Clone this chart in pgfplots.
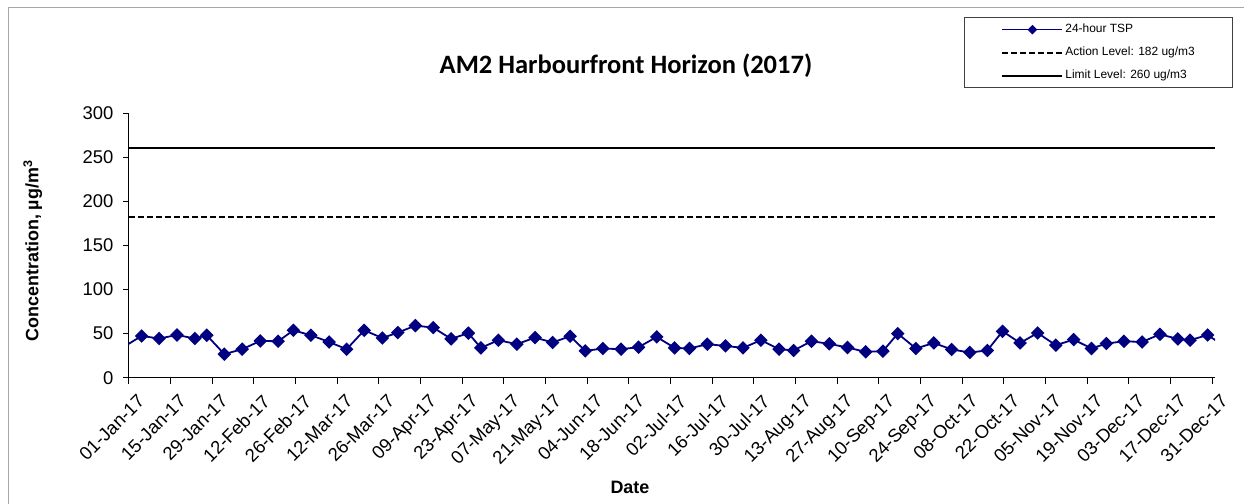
\documentclass[border=0pt]{standalone}
\usepackage{fontspec}
\setmainfont{Liberation Sans}
\newfontfamily\calibri{Carlito}
\usepackage{pgfplots}
\pgfplotsset{compat=1.18}
\definecolor{tspnavy}{RGB}{0,0,128}
\pgfplotsset{
  mylegline/.style={legend image code/.code={\path (-37bp,0bp); \draw[##1] (0bp,0bp) -- (60bp,0bp);}},
  mylegmark/.style={legend image code/.code={\path (-37bp,0bp); \draw[mark repeat=2, mark phase=2, mark size=2.6bp, line width=1.6bp, tspnavy, mark=square*, mark options={rotate=45}] plot coordinates {(0bp,0bp) (30bp,0bp) (60bp,0bp)};}},
}
\begin{document}
\begin{tikzpicture}
\useasboundingbox (0,0) rectangle (1244bp,504bp);
\fill[white] (0,0) rectangle (1244bp,504bp);
\draw[black!35, line width=1bp] (8.3bp,0) -- (8.3bp,496.7bp) -- (1244bp,496.7bp);
\begin{axis}[
  at={(128.8bp,126.3bp)}, anchor=south west,
  scale only axis, width=1086.2bp, height=264.7bp,
  xmin=0, xmax=365, ymin=0, ymax=300,
  axis lines=left, axis line style={-, black, line width=1bp},
  tick align=outside, major tick length=6bp,
  tick style={black, line width=0.8bp},
  ytick={0,50,...,300},
  xtick={0,14,...,364},
  xticklabels={01-Jan-17,15-Jan-17,29-Jan-17,12-Feb-17,26-Feb-17,12-Mar-17,26-Mar-17,09-Apr-17,23-Apr-17,07-May-17,21-May-17,04-Jun-17,18-Jun-17,02-Jul-17,16-Jul-17,30-Jul-17,13-Aug-17,27-Aug-17,10-Sep-17,24-Sep-17,08-Oct-17,22-Oct-17,05-Nov-17,19-Nov-17,03-Dec-17,17-Dec-17,31-Dec-17},
  /pgf/number format/assume math mode=true,
  yticklabel style={font=\fontsize{18.5}{21}\selectfont, xshift=-6bp},
  xticklabel style={font=\fontsize{18.5}{21}\selectfont, rotate=45, anchor=north east, xshift=2bp, yshift=-9bp},
  title={AM2 Harbourfront Horizon (2017)},
  title style={font=\calibri\bfseries\fontsize{26.6}{30}\selectfont, at={(axis description cs:0.4577,1.128)}, anchor=base},
  xlabel={Date},
  xlabel style={font=\bfseries\fontsize{18}{21}\selectfont, at={(axis description cs:0.4614,-0.413)}, anchor=center},
  ylabel={Concentration, µg/m\textsuperscript{3}},
  ylabel style={font=\bfseries\fontsize{18}{21}\selectfont, at={(axis description cs:-0.0885,0.479)}, anchor=center, rotate=0},
  legend style={at={(axis description cs:0.7689,1.3616)}, anchor=north west, draw=black!75, line width=0.8bp,
    font=\fontsize{12}{14}\selectfont, inner xsep=0bp, inner ysep=4bp, row sep=7bp,
    nodes={text height=9bp, text depth=3bp}},
  legend cell align=left,
]
\addplot[tspnavy, line width=1.8bp, mark=square*, mark size=3.9bp, mark options={rotate=45, solid, fill=tspnavy}, mylegmark]
coordinates {
(-1.7,35) (4.3,47.3) (10.2,44.4) (16.2,48.4) (22.2,44.4) (26.2,48.1) (32.1,26.7) (38.1,32.3)
(44.2,41.7) (50.2,41.3) (55.3,53.7) (61.2,48.1) (67.3,40.5) (73.2,32.3) (79.1,53.7) (85.2,45.0)
(90.4,51.1) (96.3,59.0) (102.3,56.8) (108.3,44.0) (114.1,50.5) (118.3,33.8) (124.2,42.5) (130.4,38.0)
(136.5,45.5) (142.4,39.9) (148.3,47.0) (153.4,30.4) (159.3,33.1) (165.4,32.3) (171.3,34.6) (177.4,46.2)
(183.4,33.8) (188.4,33.1) (194.4,38.0) (200.5,36.0) (206.4,33.8) (212.4,42.5) (218.5,32.3) (223.4,30.9)
(229.4,41.3) (235.4,38.4) (241.5,34.2) (247.6,29.3) (253.4,30.1) (258.4,50.0) (264.5,33.1) (270.5,39.4)
(276.5,32.0) (282.6,28.6) (288.5,30.9) (293.6,52.6) (299.5,39.4) (305.4,50.7) (311.5,36.8) (317.5,43.2)
(323.5,33.1) (328.5,38.7) (334.4,41.3) (340.5,40.5) (346.5,49.2) (352.5,43.9) (356.6,42.5) (362.5,48.4)
(368.5,35)
};
\addlegendentry{\makebox[165bp][l]{24-hour TSP}}
\addplot[black, line width=2bp, dash pattern=on 6bp off 3bp, mylegline]
coordinates {(0,182) (365,182)};
\addlegendentry{\makebox[165bp][l]{Action Level: 182 ug/m3}}
\addplot[black, line width=2bp, mylegline]
coordinates {(0,260) (365,260)};
\addlegendentry{\makebox[165bp][l]{Limit Level: 260 ug/m3}}
\end{axis}
\end{tikzpicture}
\end{document}
